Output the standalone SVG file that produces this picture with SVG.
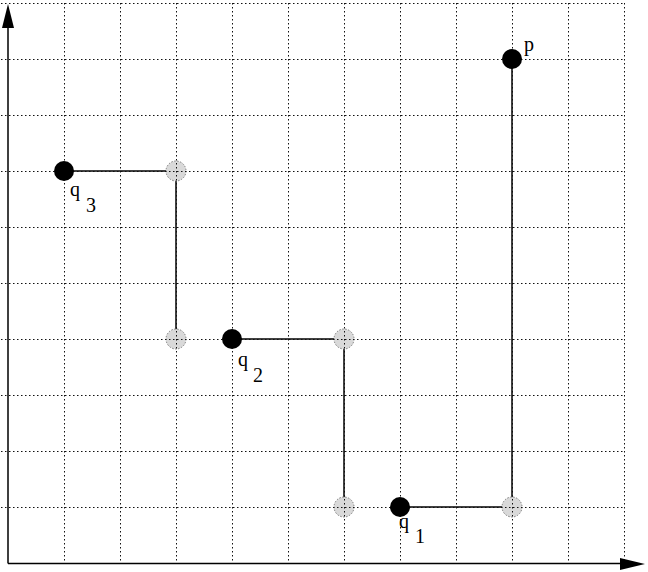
<svg xmlns="http://www.w3.org/2000/svg" width="648" height="572" viewBox="0 0 648 572">
<style>
.grid line{stroke:#111;stroke-width:1;stroke-dasharray:1.5 2.5}
.axis{stroke:#000;stroke-width:1.5;fill:none}
.arrow{fill:#000}
.conn line{stroke:#000;stroke-width:1.5}
.pt{fill:#000}
.ghost{fill:#d9d9d9;stroke:#777;stroke-width:1;stroke-dasharray:1.5 1.5}
text{font-family:"Liberation Serif","Times New Roman",serif;font-size:20px;fill:#000}
</style>
<rect width="648" height="572" fill="#fff"/>
<g class="conn" id="connectors">
<line x1="64" y1="171" x2="176" y2="171"/>
<line x1="176" y1="171" x2="176" y2="339"/>
<line x1="232" y1="339" x2="344" y2="339"/>
<line x1="344" y1="339" x2="344" y2="507"/>
<line x1="400" y1="507" x2="512" y2="507"/>
<line x1="512" y1="507" x2="512" y2="59"/>
</g>
<g id="g1"><circle class="ghost" cx="176" cy="171" r="10"/></g>
<g id="g2"><circle class="ghost" cx="176" cy="339" r="10"/></g>
<g id="g3"><circle class="ghost" cx="344" cy="339" r="10"/></g>
<g id="g4"><circle class="ghost" cx="344" cy="507" r="10"/></g>
<g id="g5"><circle class="ghost" cx="512" cy="507" r="10"/></g>
<g class="grid">
<line x1="64.5" y1="3" x2="64.5" y2="563"/>
<line x1="120.5" y1="3" x2="120.5" y2="563"/>
<line x1="176.5" y1="3" x2="176.5" y2="563"/>
<line x1="232.5" y1="3" x2="232.5" y2="563"/>
<line x1="288.5" y1="3" x2="288.5" y2="563"/>
<line x1="344.5" y1="3" x2="344.5" y2="563"/>
<line x1="400.5" y1="3" x2="400.5" y2="563"/>
<line x1="456.5" y1="3" x2="456.5" y2="563"/>
<line x1="512.5" y1="3" x2="512.5" y2="563"/>
<line x1="568.5" y1="3" x2="568.5" y2="563"/>
<line x1="624.5" y1="3" x2="624.5" y2="563"/>
<line x1="1" y1="3.5" x2="624" y2="3.5"/>
<line x1="1" y1="59.5" x2="624" y2="59.5"/>
<line x1="1" y1="115.5" x2="624" y2="115.5"/>
<line x1="1" y1="171.5" x2="624" y2="171.5"/>
<line x1="1" y1="227.5" x2="624" y2="227.5"/>
<line x1="1" y1="283.5" x2="624" y2="283.5"/>
<line x1="1" y1="339.5" x2="624" y2="339.5"/>
<line x1="1" y1="395.5" x2="624" y2="395.5"/>
<line x1="1" y1="451.5" x2="624" y2="451.5"/>
<line x1="1" y1="507.5" x2="624" y2="507.5"/>
</g>
<g id="axes">
<path class="axis" d="M8,563.5 V26 M8,563.5 H622"/>
<polygon class="arrow" points="8,4 2,28 14,28"/>
<polygon class="arrow" points="645,564 620,558 620,570"/>
</g>
<g id="q3"><circle class="pt" cx="64" cy="171" r="10"/><text x="70" y="196">q</text><text x="86" y="212">3</text></g>
<g id="q2"><circle class="pt" cx="232" cy="339" r="10"/><text x="238" y="366">q</text><text x="253" y="382">2</text></g>
<g id="q1"><circle class="pt" cx="400" cy="507" r="10"/><text x="399" y="528">q</text><text x="415" y="543">1</text></g>
<g id="p"><circle class="pt" cx="512" cy="59" r="10"/><text x="524" y="51">p</text></g>
</svg>
